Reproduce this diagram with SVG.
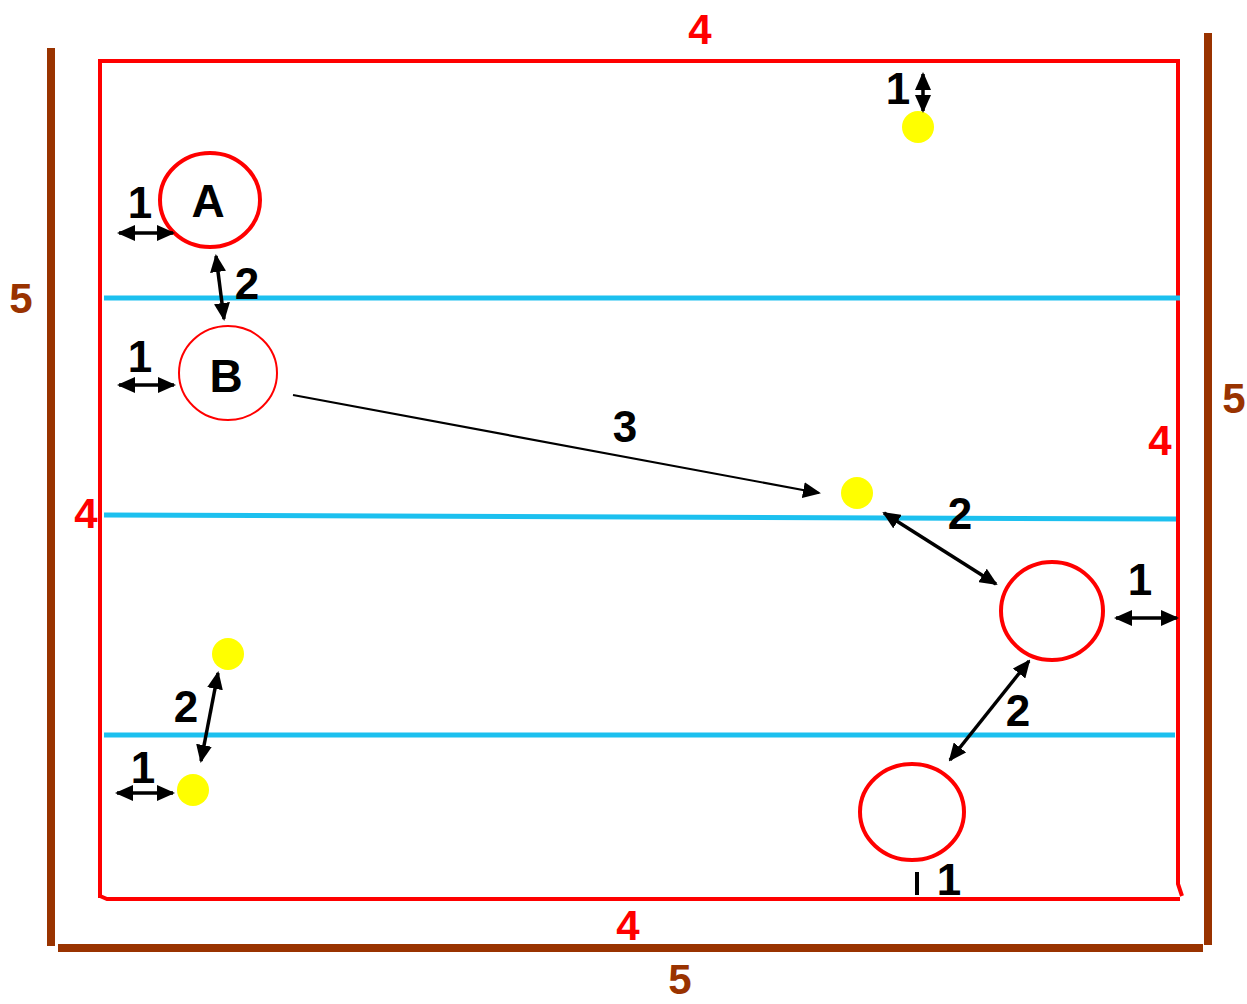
<svg xmlns="http://www.w3.org/2000/svg" width="1247" height="1004" viewBox="0 0 1247 1004">
<defs>
<marker id="ah" markerUnits="userSpaceOnUse" markerWidth="18" markerHeight="16" refX="16" refY="8" orient="auto-start-reverse">
<path d="M0,0 L18,8 L0,16 Z" fill="#000"/>
</marker>
<style>
.red{stroke:#ff0000;stroke-width:4;fill:none}
.brown{stroke:#993300;stroke-width:8;fill:none}
.blue{stroke:#1cc0ef;stroke-width:5;fill:none}
.circ{stroke:#ff0000;stroke-width:4;fill:#fff}
.dot{fill:#ffff00}
.arr{stroke:#000;stroke-width:3.5;fill:none}
.t{font-family:"Liberation Sans",Arial,sans-serif;font-weight:bold;text-anchor:middle}
.num{font-size:44px;fill:#000}
.r{font-size:42px;fill:#ff0000}
.b{font-size:42px;fill:#993300}
.big{font-size:46px;fill:#000}
</style>
</defs>
<rect width="1247" height="1004" fill="#fff"/>
<g id="field">
<path class="red" d="M100,898 L100,61 L1178,61 L1178,884 L1182,896"/>
<path class="red" d="M100,896 L107,899 L1180,899"/>
<line class="brown" x1="51" y1="48" x2="51" y2="946"/>
<line class="brown" x1="58" y1="948" x2="1203" y2="948"/>
<line class="brown" x1="1208" y1="33" x2="1208" y2="945"/>
<line class="blue" x1="104" y1="298" x2="1180" y2="298"/>
<line class="blue" x1="104" y1="515" x2="1176" y2="519"/>
<line class="blue" x1="104" y1="735" x2="1175" y2="735"/>
<text class="t r" x="700" y="44">4</text>
<text class="t r" x="86" y="528">4</text>
<text class="t r" x="1160" y="455">4</text>
<text class="t r" x="628" y="940">4</text>
<text class="t b" x="21" y="313">5</text>
<text class="t b" x="1234" y="413">5</text>
<text class="t b" x="680" y="994">5</text>
</g>
<g id="nodeA">
<ellipse class="circ" cx="210" cy="200" rx="50" ry="47"/>
<text class="t big" x="208" y="217">A</text>
</g>
<g id="nodeB">
<ellipse class="circ" cx="228" cy="373" rx="49" ry="47" style="stroke-width:2"/>
<text class="t big" x="226" y="392">B</text>
</g>
<g id="nodeC">
<ellipse class="circ" cx="1052" cy="611" rx="51" ry="49"/>
</g>
<g id="nodeD">
<ellipse class="circ" cx="912" cy="812" rx="52" ry="48"/>
</g>
<g id="ball1"><circle class="dot" cx="918" cy="127" r="16"/></g>
<g id="ball2"><circle class="dot" cx="857" cy="493" r="16"/></g>
<g id="ball3"><circle class="dot" cx="228" cy="654" r="16"/></g>
<g id="ball4"><circle class="dot" cx="193" cy="790" r="16"/></g>
<g id="connectors">
<line class="arr" x1="119" y1="233" x2="173" y2="233" marker-start="url(#ah)" marker-end="url(#ah)"/>
<line class="arr" x1="216" y1="256" x2="224" y2="319" marker-start="url(#ah)" marker-end="url(#ah)"/>
<line class="arr" x1="119" y1="385" x2="174" y2="385" marker-start="url(#ah)" marker-end="url(#ah)"/>
<line class="arr" x1="293" y1="395" x2="819" y2="493" style="stroke-width:2.2" marker-end="url(#ah)"/>
<line class="arr" x1="923" y1="74" x2="923" y2="111" marker-start="url(#ah)" marker-end="url(#ah)"/>
<line class="arr" x1="884" y1="513" x2="996" y2="584" marker-start="url(#ah)" marker-end="url(#ah)"/>
<line class="arr" x1="1116" y1="618" x2="1177" y2="618" marker-start="url(#ah)" marker-end="url(#ah)"/>
<line class="arr" x1="1029" y1="661" x2="950" y2="760" marker-start="url(#ah)" marker-end="url(#ah)"/>
<line class="arr" x1="917" y1="872" x2="917" y2="895" style="stroke-width:4"/>
<line class="arr" x1="218" y1="673" x2="201" y2="761" marker-start="url(#ah)" marker-end="url(#ah)"/>
<line class="arr" x1="117" y1="793" x2="173" y2="793" marker-start="url(#ah)" marker-end="url(#ah)"/>
<text class="t num" x="140" y="218">1</text>
<text class="t num" x="247" y="299">2</text>
<text class="t num" x="140" y="372">1</text>
<text class="t num" x="625" y="442">3</text>
<text class="t num" x="898" y="104">1</text>
<text class="t num" x="960" y="529">2</text>
<text class="t num" x="1140" y="595">1</text>
<text class="t num" x="1018" y="726">2</text>
<text class="t num" x="949" y="895">1</text>
<text class="t num" x="186" y="722">2</text>
<text class="t num" x="143" y="783">1</text>
</g>
</svg>
